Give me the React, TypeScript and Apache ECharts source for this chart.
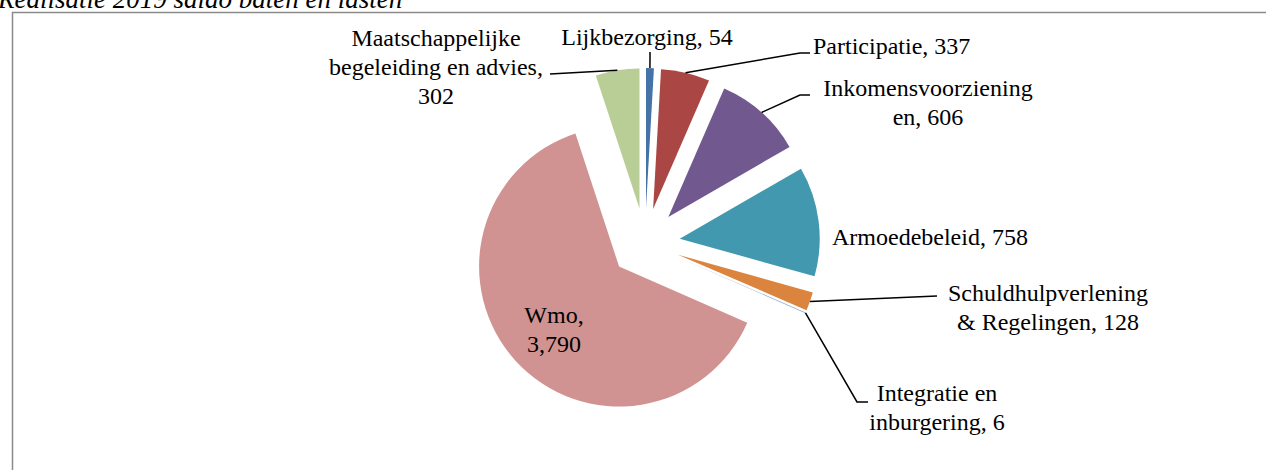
import React, { useEffect, useRef } from "react";
import * as echarts from "echarts";

const title = "Realisatie 2019 saldo baten en lasten";
const categories = [
  "Lijkbezorging",
  "Participatie",
  "Inkomensvoorzieningen",
  "Armoedebeleid",
  "Schuldhulpverlening & Regelingen",
  "Integratie en inburgering",
  "Wmo",
  "Maatschappelijke begeleiding en advies",
];
const values = [54, 337, 606, 758, 128, 6, 3790, 302];
// label text with line breaks; {v} is replaced by the formatted value
const labelTemplates = [
  "Lijkbezorging, {v}",
  "Participatie, {v}",
  "Inkomensvoorziening\nen, {v}",
  "Armoedebeleid, {v}",
  "Schuldhulpverlening\n& Regelingen, {v}",
  "Integratie en\ninburgering, {v}",
  "Wmo,\n{v}",
  "Maatschappelijke\nbegeleiding en advies,\n{v}",
];
const colors = ["#4572A7", "#AA4643", "#71588F", "#4198AF", "#DB843D", "#93A9CF", "#D19392", "#B9CD96"];

// layout
const CENTER = [645, 243];
const RADIUS = 140;
const OFFSET = 35;
const labelPlacement: { x: number; y: number; align: string; pts?: number[][] }[] = [
  { x: 647, y: 37, align: "center", pts: [[650, 52]] },
  { x: 813, y: 46, align: "left", pts: [[800, 53], [810, 53]] },
  { x: 928, y: 102, align: "center", pts: [[800, 95], [810, 95]] },
  { x: 832, y: 237, align: "left" },
  { x: 1048, y: 307, align: "center", pts: [[937, 296]] },
  { x: 937, y: 407, align: "center", pts: [[857, 402], [868, 402]] },
  { x: 554, y: 329, align: "center" },
  { x: 436, y: 67, align: "center", pts: [[550, 74]] },
];

const FONT = "'Liberation Serif', 'Times New Roman', serif";

export default function App() {
  const ref = useRef<HTMLDivElement>(null);
  useEffect(() => {
    document.body.style.margin = "0";
    const chart = echarts.init(ref.current!, null, { renderer: "svg" });

    const total = values.reduce((a, b) => a + b, 0);
    let acc = 0;
    const graphics: any[] = [
      {
        type: "rect",
        shape: { x: 12.5, y: 12.5, width: 1400, height: 600 },
        style: { fill: "none", stroke: "#8a8a8a", lineWidth: 1.5 },
        silent: true,
      },
      {
        type: "text",
        x: -2,
        y: 12,
        style: {
          text: title,
          fontFamily: FONT,
          fontSize: 27,
          fontStyle: "italic",
          fill: "#000",
          verticalAlign: "bottom",
        },
        silent: true,
      },
    ];
    values.forEach((v, i) => {
      const a0 = acc;
      acc += v;
      const mid = (((a0 + acc) / 2) / total) * 2 * Math.PI;
      const ux = Math.sin(mid);
      const uy = -Math.cos(mid);
      const ox = CENTER[0] + (OFFSET + RADIUS) * ux;
      const oy = CENTER[1] + (OFFSET + RADIUS) * uy;
      const L = labelPlacement[i];
      if (L.pts) {
        graphics.push({
          type: "polyline",
          shape: { points: [[ox, oy], ...L.pts] },
          style: { stroke: "#000", lineWidth: 1.5, fill: "none" },
          silent: true,
          z: 10,
        });
      }
      graphics.push({
        type: "text",
        x: L.x,
        y: L.y,
        z: 10,
        silent: true,
        style: {
          text: labelTemplates[i].replace("{v}", v.toLocaleString("en-US")),
          fontFamily: FONT,
          fontSize: 24,
          lineHeight: 29,
          fill: "#000",
          align: L.align,
          verticalAlign: "middle",
        },
      });
    });

    chart.setOption({
      animation: false,
      backgroundColor: "#ffffff",
      graphic: graphics,
      series: [
        {
          type: "pie",
          center: CENTER,
          radius: RADIUS,
          startAngle: 90,
          clockwise: true,
          selectedMode: "multiple",
          selectedOffset: OFFSET,
          avoidLabelOverlap: false,
          emphasis: { disabled: true },
          itemStyle: { borderWidth: 0 },
          label: { show: false },
          labelLine: { show: false },
          data: categories.map((name, i) => ({
            name,
            value: values[i],
            selected: true,
            itemStyle: { color: colors[i] },
          })),
        },
      ],
    });
    return () => chart.dispose();
  }, []);
  return <div ref={ref} style={{ width: 1266, height: 470 }} />;
}
